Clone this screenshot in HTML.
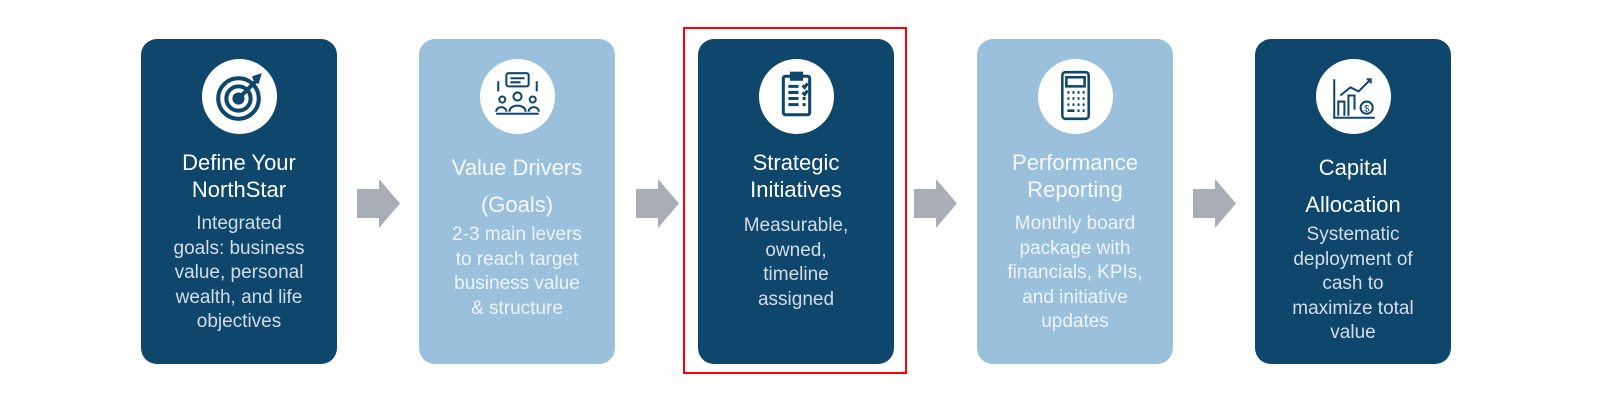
<!DOCTYPE html>
<html><head><meta charset="utf-8"><style>
body{margin:0;width:1600px;height:400px;background:#fff;position:relative;overflow:hidden;font-family:"Liberation Sans",sans-serif}
.card{position:absolute;top:39px;width:196px;height:325px;border-radius:16px}
.d{background:#0e466c}.l{background:#9ac0dc}
.c{position:absolute;left:61px;top:20px;width:75px;height:75px;border-radius:50%;background:#fff}
.c svg{position:absolute;left:0;top:0}
.t{position:absolute;left:0;width:196px;text-align:center;color:#fff;font-size:22px;line-height:27px}
.b{position:absolute;left:0;width:196px;text-align:center;font-size:19px;line-height:24.5px}
.d .b{color:#d3dde8}.l .b{color:#eef4fa}.l .t{color:#f6f9fc}
.arr{position:absolute;top:179px}
</style></head><body>

<div class="card d" style="left:141px">
<div class="c"><svg width="75" height="75" viewBox="0 0 74 74" fill="none" stroke="#0e466c" stroke-width="4"><circle cx="36" cy="39" r="20"/><circle cx="36" cy="39" r="12"/><circle cx="36" cy="39" r="4" fill="#0e466c"/><path d="M37 38 L54 21 M50 19 L56 17 L54 24"/></svg></div>
<div class="t" style="top:110px">Define Your<br>NorthStar</div>
<div class="b" style="top:173px">Integrated<br>goals: business<br>value, personal<br>wealth, and life<br>objectives</div>
</div>

<svg class="arr" style="left:357px" width="44" height="49"><path d="M0 10H22V0L43 24.5 22 49V39H0Z" fill="#a9adb5"/></svg>

<div class="card l" style="left:419px">
<div class="c"><svg width="75" height="75" viewBox="0 0 74 74" fill="none" stroke="#0e466c" stroke-width="2"><rect x="26" y="14" width="22" height="13" rx="2"/><path d="M30 19h14M30 23h10M18 22v10M56 22v10"/><circle cx="37" cy="37" r="4"/><circle cx="22" cy="40" r="3"/><circle cx="52" cy="40" r="3"/><path d="M29 52c0-8 16-8 16 0M16 52c0-6 10-6 10 0M48 52c0-6 10-6 10 0M16 54h42"/></svg></div>
<div class="t" style="top:110px;line-height:37px">Value Drivers<br>(Goals)</div>
<div class="b" style="top:184px">2-3 main levers<br>to reach target<br>business value<br>&amp; structure</div>
</div>

<svg class="arr" style="left:636px" width="44" height="49"><path d="M0 10H22V0L43 24.5 22 49V39H0Z" fill="#a9adb5"/></svg>

<div style="position:absolute;left:683px;top:27px;width:220px;height:343px;border:2px solid #f00"></div>
<div class="card d" style="left:698px">
<div class="c"><svg width="75" height="75" viewBox="0 0 74 74" fill="none" stroke="#0e466c" stroke-width="3"><rect x="24" y="17" width="26" height="38" rx="2"/><rect x="32" y="14" width="10" height="6" fill="#0e466c"/><path d="M29 27h10M29 33h10M29 39h10M29 45h10M43 26l2 2 3-4M43 33l2 2 3-4M43 39h3M43 45h3"/></svg></div>
<div class="t" style="top:110px">Strategic<br>Initiatives</div>
<div class="b" style="top:175px">Measurable,<br>owned,<br>timeline<br>assigned</div>
</div>

<svg class="arr" style="left:914px" width="44" height="49"><path d="M0 10H22V0L43 24.5 22 49V39H0Z" fill="#a9adb5"/></svg>

<div class="card l" style="left:977px">
<div class="c"><svg width="75" height="75" viewBox="0 0 74 74" fill="none" stroke="#0e466c" stroke-width="2.5"><rect x="24" y="13" width="26" height="46" rx="3"/><rect x="28" y="18" width="18" height="9"/><path d="M29 33h2M34 33h2M39 33h2M44 33h2M29 39h2M34 39h2M39 39h2M44 39h2M29 45h2M34 45h2M39 45h2M44 45h2M29 51h7M39 51h2M44 51h2"/></svg></div>
<div class="t" style="top:110px">Performance<br>Reporting</div>
<div class="b" style="top:173px">Monthly board<br>package with<br>financials, KPIs,<br>and initiative<br>updates</div>
</div>

<svg class="arr" style="left:1193px" width="44" height="49"><path d="M0 10H22V0L43 24.5 22 49V39H0Z" fill="#a9adb5"/></svg>

<div class="card d" style="left:1255px">
<div class="c"><svg width="75" height="75" viewBox="0 0 74 74" fill="none" stroke="#0e466c" stroke-width="2"><path d="M18 20v38h40M22 56V42h6v14M32 56V36h6v14M24 36l10-8 8 4 12-12M50 20h4v4"/><circle cx="50" cy="48" r="6"/><text x="50" y="52" font-size="9" text-anchor="middle" fill="#0e466c" stroke="none" font-family="Liberation Sans">$</text></svg></div>
<div class="t" style="top:110px;line-height:37px">Capital<br>Allocation</div>
<div class="b" style="top:184px">Systematic<br>deployment of<br>cash to<br>maximize total<br>value</div>
</div>
</body></html>
